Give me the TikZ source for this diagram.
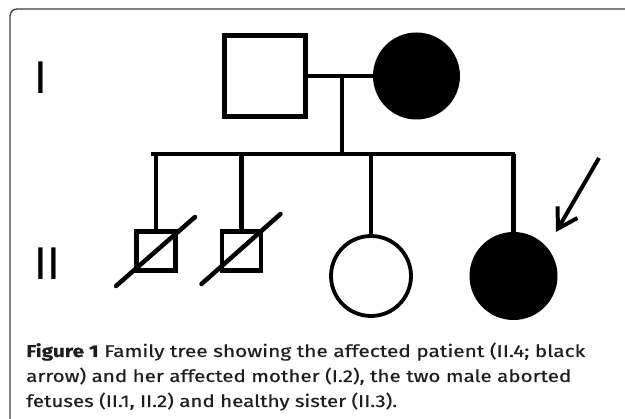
\documentclass[tikz,border=0pt]{standalone}
\usepackage{fontspec}
\usepackage{graphicx}
\usetikzlibrary{arrows.meta}
\newfontfamily\capfont[FakeBold=0.5]{Fira Sans}
\newfontfamily\numfont{Liberation Sans}
\definecolor{framegray}{RGB}{60,60,60}
\definecolor{captextcol}{RGB}{30,30,30}
\begin{document}
\begin{tikzpicture}[x=1pt,y=-1pt,
  ped/.style={line width=4.5pt},
  male/.style={draw,line width=4.5pt,rectangle,inner sep=0pt,minimum size=#1},
  female/.style={draw,line width=4pt,circle,inner sep=0pt,minimum size=#1},
  gen/.style={font=\numfont\fontsize{46}{46}\selectfont,inner sep=0pt,anchor=base},
  captext/.style={font=\capfont\fontsize{17}{17}\selectfont,inner sep=0pt,anchor=base west,color=captextcol}]
\useasboundingbox (0,0) rectangle (625,419);
% frame
\draw[framegray,line width=1.3pt,rounded corners=7pt] (10,425) -- (10,9) -- (630,9);
% generation labels
\node[gen] (genI) at (41,94) {I};
\node[gen] (genII) at (47.6,280) {II};
% generation I
\node[male=81pt] (I1) at (265,76) {};
\node[female=83pt,fill=black] (I2) at (416.5,76) {};
\draw[ped] (I1.east) -- (I2.west);
\coordinate (mid) at (342,76);
\coordinate (sibL) at (151,154);
\coordinate (sibR) at (515.2,154);
\draw[ped] (mid) -- (mid |- sibL);
\draw[ped] (sibL) -- (sibR);
% generation II
\node[male=39pt] (II1) at (156,251) {};
\node[male=39pt] (II2) at (241.5,251) {};
\node[female=80pt,line width=3.8pt] (II3) at (371,276) {};
\node[female=84pt,fill=black] (II4) at (513.5,276) {};
\foreach \n in {II1,II2,II3,II4}{
  \draw[ped] (\n.north |- sibL) -- (\n.north);
}
% deceased slashes
\draw[line width=4.5pt,line cap=round] ([shift={(-40,35)}]II1.center) -- ([shift={(39,-34)}]II1.center);
\draw[line width=4.5pt,line cap=round] ([shift={(-40,33)}]II2.center) -- ([shift={(39,-37)}]II2.center);
% proband arrow
\coordinate (arrS) at (599,158);
\coordinate (arrT) at (556,232);
\draw[line width=4pt,-{Straight Barb[length=19pt,width=23pt,line width=4pt]}] (arrS) -- (arrT);
% caption
\node[captext] (cap1) at (26,357) {\resizebox{559pt}{\height}{{\bfseries Figure 1} Family tree showing the affected patient (II.4; black}};
\node[captext] (cap2) at (26,382) {\resizebox{545pt}{\height}{arrow) and her affected mother (I.2), the two male aborted}};
\node[captext] (cap3) at (26,407) {\resizebox{371pt}{\height}{fetuses (II.1, II.2) and healthy sister (II.3).}};
\end{tikzpicture}
\end{document}
